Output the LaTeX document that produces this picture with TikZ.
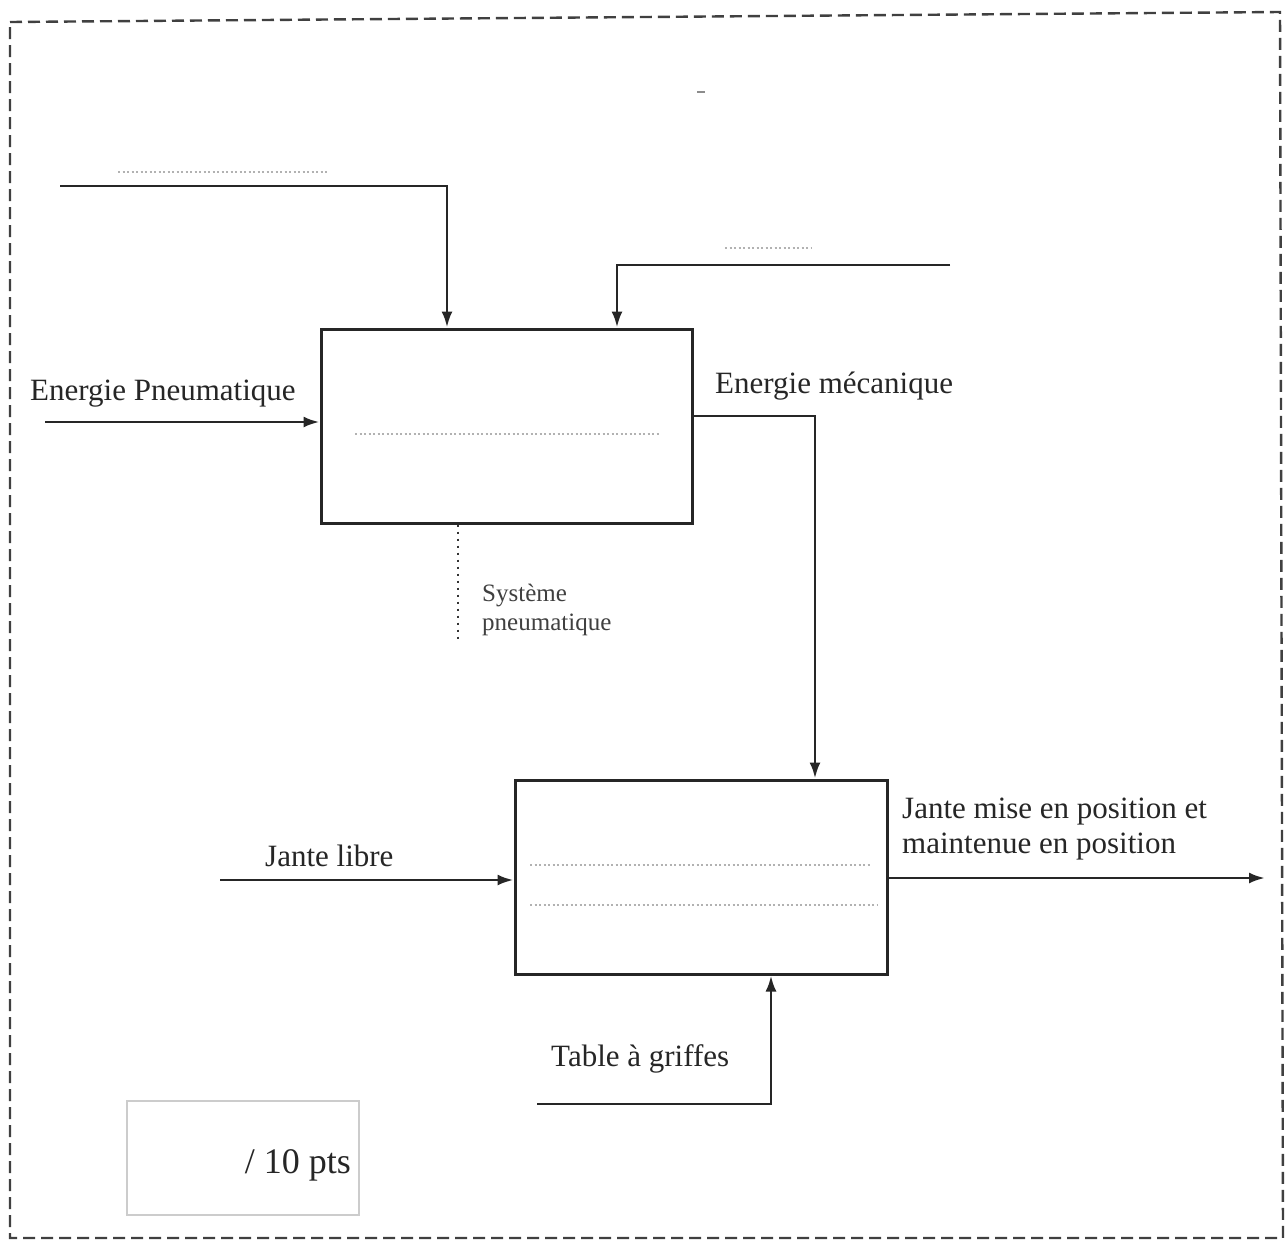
\documentclass[tikz,border=0pt]{standalone}
\usepackage{fontspec}
\setmainfont{Liberation Serif}
\usetikzlibrary{arrows.meta}
\begin{document}
\begin{tikzpicture}[x=1pt,y=-1pt,
  line/.style={line width=2.8pt,draw=black!85},
  arr/.style={line,-{Latex[length=16pt,width=11pt]}},
  blockbox/.style={draw=black!85,line width=3pt,fill=none,inner sep=0pt},
  lbl/.style={anchor=base west,inner sep=0pt,font=\fontsize{31}{35}\selectfont,text=black!85},
  small/.style={anchor=base west,inner sep=0pt,font=\fontsize{25}{29}\selectfont,text=black!75,align=left},
  faint/.style={draw=black!30,line width=1.8pt,dash pattern=on 2pt off 2.5pt}]
\useasboundingbox (0,0) rectangle (1287,1245);
\fill[white] (0,0) rectangle (1287,1245);
% outer dashed frame
\draw[black!75,line width=2.4pt,dash pattern=on 12pt off 6pt] (10,22) -- (1280,12) -- (1283,1238) -- (10,1238) -- cycle;
% boxes
\node[blockbox,minimum width=371pt,minimum height=194pt] (A) at (506.5,426) {};
\node[blockbox,minimum width=372pt,minimum height=194pt] (B) at (701,877) {};
% coordinates
\coordinate (c1) at (60,186);
\coordinate (k1) at (447,186);
\coordinate (c2) at (950,265);
\coordinate (k2) at (617,265);
\coordinate (cin) at (45,422);
\coordinate (k3) at (815,416);
\coordinate (cjl) at (220,880);
\coordinate (cout) at (1265,878);
\coordinate (ct) at (537,1104);
\coordinate (k4) at (771,1104);
\coordinate (d1) at (458,640);
% connectors
\draw[arr] (c1) -| (A.north -| k1);
\draw[arr] (c2) -| (A.north -| k2);
\draw[arr] (cin) -- (A.west |- cin);
\draw[arr] (A.east |- k3) -| (B.north -| k3);
\draw[arr] (cjl) -- (B.west |- cjl);
\draw[arr] (B.east |- cout) -- (cout);
\draw[arr] (ct) -| (B.south -| k4);
\draw[black!80,line width=2pt,dash pattern=on 2pt off 5pt] (A.south -| d1) -- (d1);
% faint dotted lines
\draw[faint] (118,172) -- (328,172);
\draw[faint] (725,248) -- (812,248);
\draw[faint] (355,434) -- (660,434);
\draw[faint] (530,865) -- (870,865);
\draw[faint] (530,905) -- (877,905);
\draw[black!45,line width=2pt] (697,92) -- (705,92);
% labels
\node[lbl] (t1) at (30,400) {Energie Pneumatique};
\node[lbl] (t2) at (715,393) {Energie mécanique};
\node[small] (t3) at (482,630) {Système\\pneumatique};
\node[lbl] (t4) at (265,866) {Jante libre};
\node[lbl,align=left] (t5) at (902,853) {Jante mise en position et\\maintenue en position};
\node[lbl] (t6) at (551,1066) {Table à griffes};
% score box
\node[draw=black!20,line width=1.5pt,minimum width=232pt,minimum height=114pt,inner sep=0pt] (S) at (243,1158) {};
\node[anchor=base east,inner sep=0pt,font=\fontsize{36}{40}\selectfont,text=black!85] (pts) at (351,1173) {/ 10 pts};
\end{tikzpicture}
\end{document}
